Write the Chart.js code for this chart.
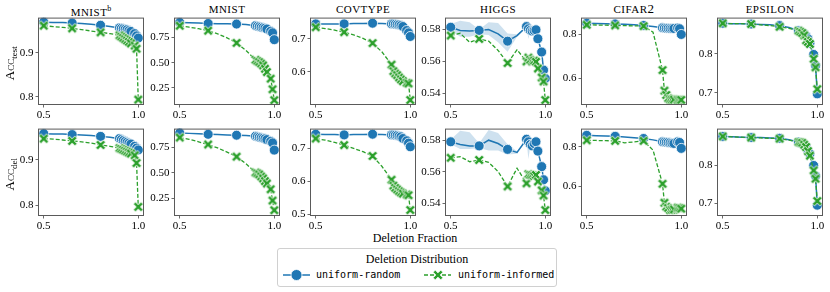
<!DOCTYPE html>
<html>
<head>
<meta charset="utf-8">
<script src="https://cdn.jsdelivr.net/npm/chart.js@4.4.0/dist/chart.umd.min.js"></script>
<style>
  body { margin: 0; width: 830px; height: 292px; background: #fff; position: relative; overflow: hidden;
         font-family: "Liberation Serif", "DejaVu Serif", serif; color: #000; }
  canvas { position: absolute; }
  .title { position: absolute; top: 2px; width: 104px; text-align: center; font-size: 11px;
           letter-spacing: 0.5px; line-height: 14px; }
  .title sup { font-size: 8px; letter-spacing: 0; }
  .ylab { position: absolute; width: 90px; text-align: center; font-size: 13px; line-height: 16px;
          transform: rotate(-90deg); }
  .ylab .sc { font-variant: small-caps; }
  .ylab sub { font-size: 9px; }
  .xlab { position: absolute; left: 335px; top: 230px; width: 160px; text-align: center; font-size: 12px; line-height: 16px; }
  #legend { position: absolute; left: 277px; top: 248px; width: 280px; height: 39px; border: 1px solid #d0d0d0;
            border-radius: 3px; box-sizing: border-box; }
  #legend .ltitle { position: absolute; left: 0; width: 100%; top: 2px; text-align: center; font-size: 12px; line-height: 16px; }
  #legend .ltext { position: absolute; top: 19px; font-family: "DejaVu Sans Mono", monospace; font-size: 10px; line-height: 14px; }
</style>
</head>
<body>
<div class="xlab">Deletion Fraction</div>
<div id="legend">
  <div class="ltitle">Deletion Distribution</div>
  <canvas id="lgRandom" width="30" height="14" style="left:4px;top:19px"></canvas>
  <span class="ltext" style="left:38px">uniform-random</span>
  <canvas id="lgInformed" width="30" height="14" style="left:145px;top:19px"></canvas>
  <span class="ltext" style="left:180px">uniform-informed</span>
</div>
<script>
// ---- data ----
const deletionFractions = [0.5, 0.55, 0.6, 0.65, 0.7, 0.75, 0.8, 0.85, 0.9, 0.91, 0.92, 0.93, 0.94, 0.95, 0.96, 0.98, 0.99, 0.999];
const markedFractions = [0.5, 0.65, 0.8, 0.9, 0.91, 0.92, 0.93, 0.94, 0.95, 0.96, 0.98, 0.99, 0.999];

const seriesNames = ['uniform-random', 'uniform-informed'];

const mnistbTestRandom   = [0.969, 0.968, 0.968, 0.967, 0.966, 0.964, 0.962, 0.959, 0.956, 0.955, 0.954, 0.953, 0.952, 0.950, 0.948, 0.943, 0.938, 0.933];
const mnistbTestInformed = [0.961, 0.959, 0.957, 0.955, 0.952, 0.949, 0.946, 0.943, 0.939, 0.936, 0.933, 0.930, 0.927, 0.924, 0.921, 0.916, 0.909, 0.794];
const mnistbDelRandom    = [0.958, 0.957, 0.957, 0.956, 0.955, 0.954, 0.952, 0.950, 0.947, 0.945, 0.943, 0.941, 0.939, 0.937, 0.935, 0.930, 0.926, 0.922];
const mnistbDelInformed  = [0.947, 0.946, 0.944, 0.942, 0.940, 0.937, 0.933, 0.930, 0.926, 0.924, 0.922, 0.920, 0.918, 0.916, 0.914, 0.910, 0.893, 0.796];

const mnistTestRandom    = [0.897, 0.894, 0.891, 0.887, 0.885, 0.883, 0.881, 0.876, 0.865, 0.860, 0.855, 0.850, 0.845, 0.840, 0.832, 0.810, 0.795, 0.727];
const mnistTestInformed  = [0.865, 0.850, 0.835, 0.816, 0.785, 0.745, 0.695, 0.620, 0.528, 0.515, 0.505, 0.490, 0.473, 0.440, 0.407, 0.342, 0.237, 0.130];
const mnistDelRandom     = [0.892, 0.888, 0.884, 0.879, 0.876, 0.873, 0.870, 0.866, 0.860, 0.855, 0.850, 0.845, 0.840, 0.835, 0.827, 0.810, 0.795, 0.724];
const mnistDelInformed   = [0.847, 0.830, 0.805, 0.779, 0.745, 0.705, 0.660, 0.590, 0.504, 0.495, 0.485, 0.465, 0.446, 0.420, 0.397, 0.340, 0.230, 0.135];

const covtypeTestRandom   = [0.745, 0.745, 0.745, 0.745, 0.746, 0.746, 0.747, 0.746, 0.745, 0.745, 0.744, 0.743, 0.742, 0.740, 0.737, 0.725, 0.718, 0.707];
const covtypeTestInformed = [0.735, 0.731, 0.726, 0.720, 0.712, 0.701, 0.687, 0.660, 0.622, 0.602, 0.595, 0.590, 0.583, 0.577, 0.572, 0.567, 0.565, 0.515];
const covtypeDelRandom    = [0.743, 0.742, 0.742, 0.741, 0.742, 0.742, 0.743, 0.742, 0.741, 0.741, 0.740, 0.739, 0.737, 0.735, 0.730, 0.723, 0.716, 0.705];
const covtypeDelInformed  = [0.730, 0.725, 0.718, 0.710, 0.700, 0.690, 0.677, 0.645, 0.605, 0.587, 0.580, 0.575, 0.570, 0.566, 0.563, 0.560, 0.558, 0.513];

const higgsTestRandom     = [0.5814, 0.5794, 0.5790, 0.5794, 0.5800, 0.5773, 0.5727, 0.5762, 0.5818, 0.5804, 0.5794, 0.5790, 0.5794, 0.5798, 0.5742, 0.5659, 0.5546, 0.5494];
const higgsTestRandomHi   = [0.5835, 0.5855, 0.5845, 0.5800, 0.5845, 0.5840, 0.5775, 0.5770, 0.5822, 0.5815, 0.5800, 0.5795, 0.5800, 0.5805, 0.5750, 0.5670, 0.5560, 0.5500];
const higgsTestRandomLo   = [0.5795, 0.5755, 0.5755, 0.5770, 0.5765, 0.5720, 0.5660, 0.5755, 0.5814, 0.5740, 0.5788, 0.5785, 0.5788, 0.5790, 0.5735, 0.5650, 0.5530, 0.5488];
const higgsTestInformed   = [0.5762, 0.5776, 0.5720, 0.5741, 0.5727, 0.5669, 0.5590, 0.5673, 0.5600, 0.5624, 0.5610, 0.5602, 0.5605, 0.5598, 0.5556, 0.5500, 0.5475, 0.5359];
const higgsDelRandom      = [0.5790, 0.5773, 0.5764, 0.5764, 0.5800, 0.5779, 0.5742, 0.5723, 0.5806, 0.5790, 0.5773, 0.5764, 0.5779, 0.5790, 0.5731, 0.5633, 0.5550, 0.5480];
const higgsDelRandomHi    = [0.5805, 0.5860, 0.5850, 0.5780, 0.5865, 0.5845, 0.5775, 0.5730, 0.5810, 0.5800, 0.5780, 0.5770, 0.5785, 0.5795, 0.5740, 0.5645, 0.5560, 0.5490];
const higgsDelRandomLo    = [0.5775, 0.5745, 0.5745, 0.5750, 0.5735, 0.5735, 0.5710, 0.5715, 0.5800, 0.5680, 0.5765, 0.5755, 0.5770, 0.5785, 0.5720, 0.5620, 0.5540, 0.5470];
const higgsDelInformed    = [0.5689, 0.5696, 0.5664, 0.5675, 0.5660, 0.5602, 0.5508, 0.5623, 0.5527, 0.5585, 0.5580, 0.5578, 0.5575, 0.5580, 0.5539, 0.5483, 0.5450, 0.5358];

const cifar2TestRandom    = [0.851, 0.850, 0.849, 0.848, 0.846, 0.844, 0.841, 0.836, 0.830, 0.829, 0.828, 0.828, 0.827, 0.827, 0.827, 0.829, 0.826, 0.800];
const cifar2TestInformed  = [0.844, 0.843, 0.842, 0.841, 0.840, 0.839, 0.838, 0.810, 0.638, 0.545, 0.525, 0.510, 0.505, 0.504, 0.504, 0.503, 0.503, 0.503];
const cifar2DelRandom     = [0.858, 0.856, 0.855, 0.853, 0.850, 0.846, 0.842, 0.835, 0.825, 0.824, 0.823, 0.822, 0.820, 0.818, 0.817, 0.825, 0.822, 0.792];
const cifar2DelInformed   = [0.833, 0.832, 0.831, 0.830, 0.820, 0.825, 0.830, 0.783, 0.613, 0.517, 0.497, 0.490, 0.480, 0.482, 0.483, 0.492, 0.490, 0.487];

const epsilonTestRandom   = [0.878, 0.877, 0.877, 0.876, 0.875, 0.874, 0.872, 0.867, 0.859, 0.856, 0.853, 0.851, 0.845, 0.838, 0.827, 0.798, 0.770, 0.697];
const epsilonTestInformed = [0.878, 0.877, 0.877, 0.876, 0.874, 0.872, 0.869, 0.865, 0.859, 0.856, 0.853, 0.847, 0.834, 0.830, 0.825, 0.787, 0.765, 0.709];
const epsilonDelRandom    = [0.877, 0.876, 0.875, 0.874, 0.874, 0.873, 0.872, 0.868, 0.862, 0.859, 0.857, 0.855, 0.848, 0.839, 0.831, 0.800, 0.772, 0.695];
const epsilonDelInformed  = [0.877, 0.876, 0.875, 0.874, 0.873, 0.872, 0.871, 0.867, 0.862, 0.861, 0.860, 0.855, 0.849, 0.838, 0.826, 0.787, 0.765, 0.706];

// tick labels
const xTickValues = [0.5, 1.0];
const xTickLabels = ['0.5', '1.0'];
const yTickValues = [[0.8, 0.9], [0.25, 0.5, 0.75], [0.5, 0.6, 0.7], [0.54, 0.56, 0.58], [0.6, 0.8], [0.7, 0.8]];
const yTickLabels = [['0.8', '0.9'], ['0.25', '0.50', '0.75'], ['0.5', '0.6', '0.7'], ['0.54', '0.56', '0.58'], ['0.6', '0.8'], ['0.7', '0.8']];

const panels = [
  { title: 'MNIST<sup>b</sup>', rows: [[mnistbTestRandom, mnistbTestInformed], [mnistbDelRandom, mnistbDelInformed]] },
  { title: 'MNIST', rows: [[mnistTestRandom, mnistTestInformed], [mnistDelRandom, mnistDelInformed]] },
  { title: 'COVTYPE', rows: [[covtypeTestRandom, covtypeTestInformed], [covtypeDelRandom, covtypeDelInformed]] },
  { title: 'HIGGS', rows: [[higgsTestRandom, higgsTestInformed, higgsTestRandomLo, higgsTestRandomHi],
                           [higgsDelRandom, higgsDelInformed, higgsDelRandomLo, higgsDelRandomHi]] },
  { title: 'CIFAR<span style="font-size:13px">2</span>', rows: [[cifar2TestRandom, cifar2TestInformed], [cifar2DelRandom, cifar2DelInformed]] },
  { title: 'EPSILON', rows: [[epsilonTestRandom, epsilonTestInformed], [epsilonDelRandom, epsilonDelInformed]] }
];

// ---- layout ----
const panelLefts = [39, 175, 311, 446, 582, 718];
const rowTops = [18, 129];
const PLOT_W = 104, PLOT_H = 86;
const Y_AXIS_W = 36, X_AXIS_H = 18, PAD_T = 8, PAD_R = 12;
const X_MIN = 0.475, X_MAX = 1.024;
const yLimits = [
  [[0.784, 0.977], [0.778, 0.967]],
  [[0.092, 0.935], [0.088, 0.925]],
  [[0.503, 0.761], [0.498, 0.757]],
  [[0.5334, 0.5868], [0.5327, 0.5867]],
  [[0.484, 0.872], [0.455, 0.887]],
  [[0.671, 0.890], [0.669, 0.895]]
];

const BLUE = '#1f77b4', GREEN = '#2ca02c';
const SERIF = '"Liberation Serif", "DejaVu Serif", serif';

function makeXMarker(color) {
  const c = document.createElement('canvas');
  c.width = 14; c.height = 14;
  const g = c.getContext('2d');
  const L = 5.4, w = 3.1;
  const pts = [[-w/2,-L],[w/2,-L],[w/2,-w/2],[L,-w/2],[L,w/2],[w/2,w/2],[w/2,L],[-w/2,L],[-w/2,w/2],[-L,w/2],[-L,-w/2],[-w/2,-w/2]];
  g.translate(7, 7);
  g.rotate(Math.PI / 4);
  g.beginPath();
  pts.forEach(([x, y], i) => i ? g.lineTo(x, y) : g.moveTo(x, y));
  g.closePath();
  g.fillStyle = color; g.fill();
  g.strokeStyle = '#fff'; g.lineWidth = 0.8; g.stroke();
  return c;
}
const xMarker = makeXMarker(GREEN);

const framePlugin = {
  id: 'frame',
  afterDatasetsDraw(chart) {
    const a = chart.chartArea, c = chart.ctx;
    c.save();
    c.strokeStyle = '#5a5a5a';
    c.lineWidth = 1;
    c.strokeRect(a.left - 0.5, a.top - 0.5, a.right - a.left + 1, a.bottom - a.top + 1);
    c.restore();
  }
};

const markerRadius = deletionFractions.map(f => markedFractions.includes(f) ? 5 : 0);
const toPoints = arr => deletionFractions.map((x, i) => ({ x: x, y: arr[i] }));

function buildDatasets(series) {
  const [random, informed, lo, hi] = series;
  const ds = [
    { label: seriesNames[1], data: toPoints(informed), borderColor: GREEN, borderWidth: 1.3, borderDash: [4, 2],
      pointStyle: xMarker, pointRadius: markerRadius, order: 0, clip: false, fill: false },
    { label: seriesNames[0], data: toPoints(random), borderColor: BLUE, borderWidth: 1.5,
      pointStyle: 'circle', pointRadius: markerRadius, pointBackgroundColor: BLUE, pointBorderColor: '#fff',
      pointBorderWidth: 0.8, order: 1, clip: false, fill: false }
  ];
  if (lo) {
    ds.push({ data: toPoints(lo), borderWidth: 0, pointRadius: 0, fill: false, order: 5 });
    ds.push({ data: toPoints(hi), borderWidth: 0, pointRadius: 0, fill: '-1',
              backgroundColor: 'rgba(31,119,180,0.22)', order: 5 });
  }
  return ds;
}

const CANVAS_W = Y_AXIS_W + PLOT_W + PAD_R;
const CANVAS_H = PAD_T + PLOT_H + X_AXIS_H;

panels.forEach((p, pi) => {
  const t = document.createElement('div');
  t.className = 'title';
  t.style.left = panelLefts[pi] + 'px';
  t.innerHTML = p.title;
  document.body.appendChild(t);

  p.rows.forEach((series, ri) => {
    const canvas = document.createElement('canvas');
    canvas.width = CANVAS_W; canvas.height = CANVAS_H;
    canvas.style.left = (panelLefts[pi] - Y_AXIS_W) + 'px';
    canvas.style.top = (rowTops[ri] - PAD_T) + 'px';
    document.body.appendChild(canvas);

    const [yMin, yMax] = yLimits[pi][ri];
    new Chart(canvas, {
      type: 'line',
      data: { datasets: buildDatasets(series) },
      options: {
        responsive: false,
        animation: false,
        devicePixelRatio: 1,
        layout: { padding: { left: 0, right: PAD_R, top: PAD_T, bottom: 0 } },
        plugins: { legend: { display: false }, tooltip: { enabled: false } },
        elements: { line: { tension: 0 } },
        scales: {
          x: {
            type: 'linear', min: X_MIN, max: X_MAX,
            afterBuildTicks: s => { s.ticks = xTickValues.map(v => ({ value: v })); },
            afterFit: s => { s.height = X_AXIS_H; },
            ticks: { callback: (v, i) => xTickLabels[i], color: '#000', padding: 1, maxRotation: 0,
                     font: { family: SERIF, size: 11 } },
            grid: { drawOnChartArea: false, drawTicks: true, tickLength: 3.5, tickWidth: 0.8, tickColor: '#444' },
            border: { display: false }
          },
          y: {
            type: 'linear', min: yMin, max: yMax,
            afterBuildTicks: s => {
              s.ticks = yTickValues[pi].filter(v => v >= yMin && v <= yMax).map(v => ({ value: v }));
            },
            afterFit: s => { s.width = Y_AXIS_W; },
            ticks: { callback: v => yTickLabels[pi][yTickValues[pi].indexOf(v)], color: '#000', padding: 2,
                     font: { family: SERIF, size: 11 } },
            grid: { drawOnChartArea: false, drawTicks: true, tickLength: 3.5, tickWidth: 0.8, tickColor: '#444' },
            border: { display: false }
          }
        }
      },
      plugins: [framePlugin]
    });
  });
});

// row labels
[['test', rowTops[0]], ['del', rowTops[1]]].forEach(([sub, top]) => {
  const d = document.createElement('div');
  d.className = 'ylab';
  d.style.left = (12 - 45) + 'px';
  d.style.top = (top + PLOT_H / 2 - 8) + 'px';
  d.innerHTML = '<span class="sc">Acc</span><sub>' + sub + '</sub>';
  document.body.appendChild(d);
});

// legend samples
function drawSample(id, color, dash, marker) {
  const g = document.getElementById(id).getContext('2d');
  g.strokeStyle = color;
  g.lineWidth = dash ? 1.3 : 1.5;
  g.setLineDash(dash || []);
  g.beginPath(); g.moveTo(1, 7); g.lineTo(28, 7); g.stroke();
  g.setLineDash([]);
  if (marker) {
    g.drawImage(marker, 15 - 7, 0);
  } else {
    g.beginPath(); g.arc(14.5, 7, 5.5, 0, Math.PI * 2);
    g.fillStyle = color; g.fill();
    g.strokeStyle = '#fff'; g.lineWidth = 0.8; g.stroke();
  }
}
drawSample('lgRandom', BLUE, null, null);
drawSample('lgInformed', GREEN, [4, 2], xMarker);
</script>
</body>
</html>
